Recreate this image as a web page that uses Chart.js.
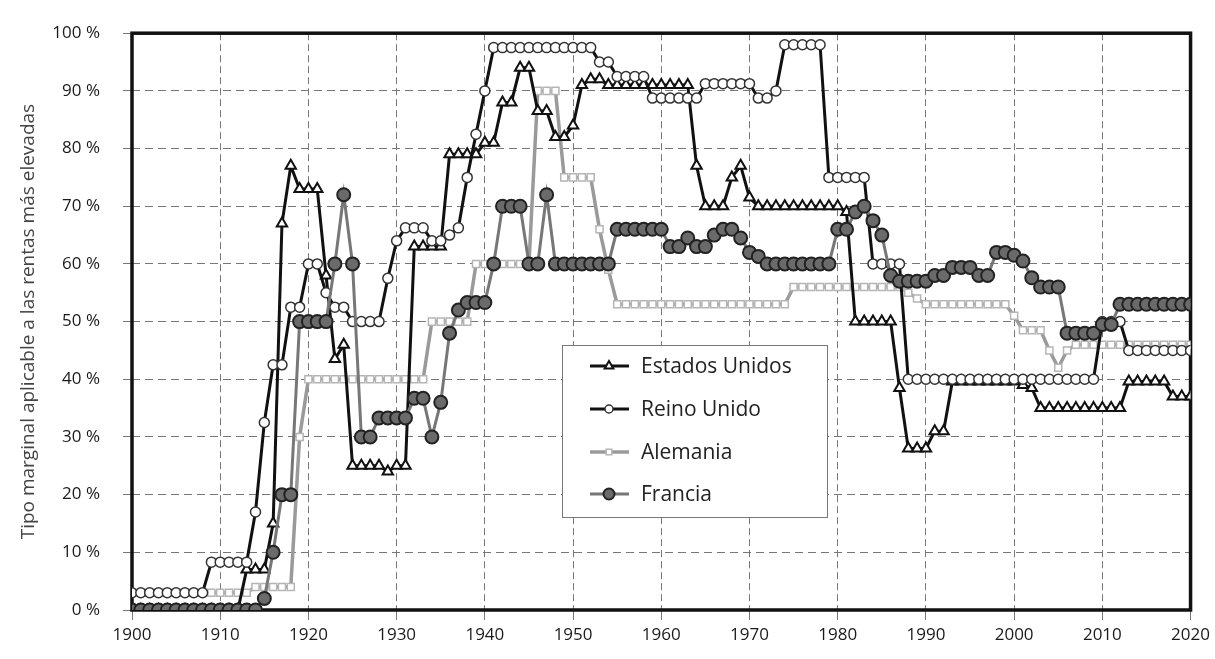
<!DOCTYPE html>
<html>
<head>
<meta charset="utf-8">
<script src="https://cdn.jsdelivr.net/npm/chart.js@4.4.0/dist/chart.umd.min.js"></script>
<style>
  html, body { margin: 0; padding: 0; background: #fff; }
  #wrap { width: 1215px; height: 659px; }
</style>
</head>
<body>
<div id="wrap"><canvas id="taxChart"></canvas></div>
<script>
// top marginal income tax rates, one value per year 1900..2020
const firstYear = 1900;
const seriesNames = ['Estados Unidos', 'Reino Unido', 'Alemania', 'Francia'];
const yTicks = [0, 10, 20, 30, 40, 50, 60, 70, 80, 90, 100];
const xTicks = [1900, 1910, 1920, 1930, 1940, 1950, 1960, 1970, 1980, 1990, 2000, 2010, 2020];

const usa = [
  0, 0, 0, 0, 0, 0, 0, 0, 0, 0,
  0, 0, 0, 7, 7, 7, 15, 67, 77, 73,
  73, 73, 58, 43.5, 46, 25, 25, 25, 25, 24,
  25, 25, 63, 63, 63, 63, 79, 79, 79, 79,
  81, 81, 88, 88, 94, 94, 86.5, 86.5, 82, 82,
  84, 91, 92, 92, 91, 91, 91, 91, 91, 91,
  91, 91, 91, 91, 77, 70, 70, 70, 75, 77,
  71.5, 70, 70, 70, 70, 70, 70, 70, 70, 70,
  70, 69, 50, 50, 50, 50, 50, 38.5, 28, 28,
  28, 31, 31, 39.6, 39.6, 39.6, 39.6, 39.6, 39.6, 39.6,
  39.6, 39, 38.5, 35, 35, 35, 35, 35, 35, 35,
  35, 35, 35, 39.6, 39.6, 39.6, 39.6, 39.6, 37, 37,
  37
];
const uk = [
  3, 3, 3, 3, 3, 3, 3, 3, 3, 8.3,
  8.3, 8.3, 8.3, 8.3, 17, 32.5, 42.5, 42.5, 52.5, 52.5,
  60, 60, 55, 52.5, 52.5, 50, 50, 50, 50, 57.5,
  64, 66.25, 66.25, 66.25, 64, 64, 65, 66.25, 75, 82.5,
  90, 97.5, 97.5, 97.5, 97.5, 97.5, 97.5, 97.5, 97.5, 97.5,
  97.5, 97.5, 97.5, 95, 95, 92.5, 92.5, 92.5, 92.5, 88.75,
  88.75, 88.75, 88.75, 88.75, 88.75, 91.25, 91.25, 91.25, 91.25, 91.25,
  91.25, 88.75, 88.75, 90, 98, 98, 98, 98, 98, 75,
  75, 75, 75, 75, 60, 60, 60, 60, 40, 40,
  40, 40, 40, 40, 40, 40, 40, 40, 40, 40,
  40, 40, 40, 40, 40, 40, 40, 40, 40, 40,
  50, 50, 50, 45, 45, 45, 45, 45, 45, 45,
  45
];
const germany = [
  3, 3, 3, 3, 3, 3, 3, 3, 3, 3,
  3, 3, 3, 3, 4, 4, 4, 4, 4, 30,
  40, 40, 40, 40, 40, 40, 40, 40, 40, 40,
  40, 40, 40, 40, 50, 50, 50, 50, 50, 60,
  60, 60, 60, 60, 60, 60, 90, 90, 90, 75,
  75, 75, 75, 66, 59, 53, 53, 53, 53, 53,
  53, 53, 53, 53, 53, 53, 53, 53, 53, 53,
  53, 53, 53, 53, 53, 56, 56, 56, 56, 56,
  56, 56, 56, 56, 56, 56, 56, 56, 55, 54,
  53, 53, 53, 53, 53, 53, 53, 53, 53, 53,
  51, 48.5, 48.5, 48.5, 45, 42, 45, 46, 46, 46,
  46, 46, 46, 46, 46, 46, 46, 46, 46, 46,
  46
];
const france = [
  0, 0, 0, 0, 0, 0, 0, 0, 0, 0,
  0, 0, 0, 0, 0, 2, 10, 20, 20, 50,
  50, 50, 50, 60, 72, 60, 30, 30, 33.3, 33.3,
  33.3, 33.3, 36.7, 36.7, 30, 36, 48, 52, 53.3, 53.3,
  53.3, 60, 70, 70, 70, 60, 60, 72, 60, 60,
  60, 60, 60, 60, 60, 66, 66, 66, 66, 66,
  66, 63, 63, 64.5, 63, 63, 65, 66, 66, 64.5,
  62, 61.3, 60, 60, 60, 60, 60, 60, 60, 60,
  66, 66, 69, 70, 67.5, 65, 58, 57, 57, 57,
  57, 58, 58, 59.4, 59.4, 59.4, 58, 58, 62, 62,
  61.5, 60.5, 57.6, 56, 56, 56, 48, 48, 48, 48,
  49.5, 49.5, 53, 53, 53, 53, 53, 53, 53, 53,
  53
];

function toPoints(values) {
  return values.map((v, i) => ({ x: firstYear + i, y: v }));
}

const datasets = [
  {
    label: seriesNames[0], data: toPoints(usa), order: 3,
    borderColor: '#111', borderWidth: 3,
    pointStyle: 'triangle', pointRadius: 6,
    pointBackgroundColor: '#fff', pointBorderColor: '#111', pointBorderWidth: 2
  },
  {
    label: seriesNames[1], data: toPoints(uk), order: 2,
    borderColor: '#111', borderWidth: 3,
    pointStyle: 'circle', pointRadius: 5,
    pointBackgroundColor: '#fff', pointBorderColor: '#333', pointBorderWidth: 1.5
  },
  {
    label: seriesNames[2], data: toPoints(germany), order: 4,
    borderColor: '#9a9a9a', borderWidth: 3.5,
    pointStyle: 'rect', pointRadius: 5,
    pointBackgroundColor: '#fff', pointBorderColor: '#b5b5b5', pointBorderWidth: 1.5
  },
  {
    label: seriesNames[3], data: toPoints(france), order: 1,
    borderColor: '#777', borderWidth: 3,
    pointStyle: 'circle', pointRadius: 6.5,
    pointBackgroundColor: '#6a6a6a', pointBorderColor: '#222', pointBorderWidth: 2
  }
];

// thick black frame around the plot area
const framePlugin = {
  id: 'frame',
  beforeDatasetsDraw(chart) {
    const a = chart.chartArea, ctx = chart.ctx;
    ctx.save();
    ctx.strokeStyle = '#111';
    ctx.lineWidth = 3.5;
    ctx.strokeRect(a.left, a.top, a.right - a.left, a.bottom - a.top);
    ctx.restore();
  }
};

// boxed legend inside the plot
const boxLegend = {
  id: 'boxLegend',
  afterDatasetsDraw(chart) {
    const ctx = chart.ctx;
    const box = { x: 562, y: 345, w: 265, h: 172 };
    const rows = [366, 409, 452, 494];
    ctx.save();
    ctx.fillStyle = '#fff';
    ctx.fillRect(box.x, box.y, box.w, box.h);
    ctx.strokeStyle = '#777';
    ctx.lineWidth = 1;
    ctx.strokeRect(box.x + 0.5, box.y + 0.5, box.w, box.h);
    chart.data.datasets.forEach((ds, i) => {
      const y = rows[i];
      ctx.strokeStyle = ds.borderColor;
      ctx.lineWidth = ds.borderWidth;
      ctx.beginPath();
      ctx.moveTo(590, y);
      ctx.lineTo(629, y);
      ctx.stroke();
      ctx.fillStyle = ds.pointBackgroundColor;
      ctx.strokeStyle = ds.pointBorderColor;
      ctx.lineWidth = ds.pointBorderWidth;
      Chart.helpers.drawPoint(ctx, {
        pointStyle: ds.pointStyle, radius: ds.pointRadius - 1, rotation: 0,
        borderWidth: ds.pointBorderWidth
      }, 609, y);
      ctx.fillStyle = '#222';
      ctx.font = '21px "Open Sans"';
      ctx.textBaseline = 'middle';
      ctx.fillText(ds.label, 641, y + 1);
    });
    ctx.restore();
  }
};

new Chart(document.getElementById('taxChart'), {
  type: 'line',
  data: { datasets: datasets },
  options: {
    responsive: true,
    maintainAspectRatio: false,
    animation: false,
    devicePixelRatio: 1,
    layout: { padding: { top: 19, right: 23, left: 0, bottom: 0 } },
    elements: { line: { tension: 0 } },
    plugins: {
      legend: { display: false },
      tooltip: { enabled: false }
    },
    scales: {
      x: {
        type: 'linear',
        min: xTicks[0],
        max: xTicks[xTicks.length - 1],
        afterFit: (scale) => { scale.height = 49; },
        afterBuildTicks: (scale) => { scale.ticks = xTicks.map(v => ({ value: v })); },
        ticks: {
          padding: 5,
          color: '#1a1a1a',
          font: { family: 'Open Sans', size: 17 },
          callback: (v) => String(v)
        },
        grid: { color: '#777', lineWidth: 1, tickLength: 10 },
        border: { display: false, dash: [7, 4] }
      },
      y: {
        min: 0,
        max: 100,
        afterFit: (scale) => { scale.width = 132; },
        afterBuildTicks: (scale) => { scale.ticks = yTicks.map(v => ({ value: v })); },
        ticks: {
          padding: 23,
          color: '#1a1a1a',
          font: { family: 'Open Sans', size: 17 },
          callback: (v) => v + ' %'
        },
        grid: { color: '#777', lineWidth: 1, tickLength: 9 },
        border: { display: false, dash: [8, 5] },
        title: {
          display: true,
          text: 'Tipo marginal aplicable a las rentas más elevadas',
          color: '#444',
          font: { family: 'Open Sans', size: 19 },
          padding: { top: 17, bottom: 4 }
        }
      }
    }
  },
  plugins: [framePlugin, boxLegend]
});
</script>
</body>
</html>
